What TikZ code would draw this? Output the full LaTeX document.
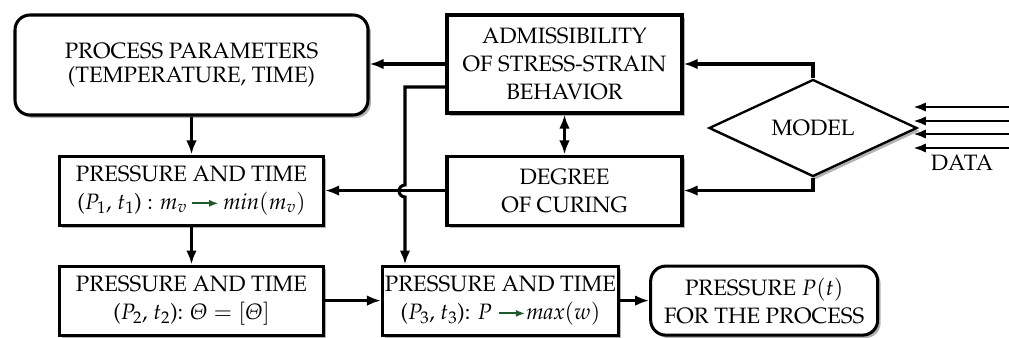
\documentclass[tikz,border=0pt]{standalone}
\usepackage[OT1]{fontenc}
\usepackage[slantedGreek]{mathpazo}
\usetikzlibrary{positioning, arrows.meta, shapes.geometric, shadows}

\definecolor{arrowgreen}{RGB}{30,90,45}
\newcommand{\garrow}{\tikz[baseline=-0.6ex]\draw[-{Latex[length=8pt,width=6pt]}, line width=1.8pt, arrowgreen] (0,0) -- (0.8cm,0);}

\begin{document}
\begin{tikzpicture}[
    x=0.03cm, y=-0.03cm,
    >={Latex[length=12pt,width=9pt]},
    shadowed/.style={
        drop shadow={shadow xshift=2.5pt, shadow yshift=-2.5pt, fill=black!30, opacity=1}
    },
    box/.style={
        rectangle,
        draw,
        line width=2.6pt,
        fill=white,
        minimum width=7.92cm,
        minimum height=2.07cm,
        align=center,
        inner sep=2pt,
        font=\fontsize{19}{24}\selectfont,
        shadowed
    },
    roundbox/.style={box, rounded corners=0.45cm},
    arrow/.style={->, line width=2.6pt}
]
\useasboundingbox (0,0) rectangle (1009,338);

% Upper row
\node[roundbox, minimum width=10.59cm, minimum height=3cm, font=\fontsize{19}{21}\selectfont] (params) at (191.5,65) {PROCESS PARAMETERS\\(TEMPERATURE, TIME)};
\node[box, minimum width=7.05cm, minimum height=2.94cm] (admiss) at (564.5,64) {ADMISSIBILITY\\OF STRESS-STRAIN\\BEHAVIOR};
\node[box, minimum width=7.05cm, below=1.2cm of admiss] (degree) {DEGREE\\OF CURING};

% Model and data
\node[diamond, draw, aspect=2.14, line width=2pt, fill=white, inner sep=0pt, minimum width=6.24cm, minimum height=2.91cm, font=\fontsize{19}{24}\selectfont, shadowed] (model) at (813,128) {MODEL};
\node[font=\fontsize{19}{24}\selectfont] (data) at (962,163) {DATA};
\foreach \y [count=\i] in {107,121,134,148} {
    \coordinate (feed\i) at (1012,\y);
    \draw[arrow, line width=2.4pt, >={Latex[length=11pt,width=8pt]}] (feed\i) -- ++(-99,0);
}

% Pressure and time steps
\node[box, below=1.14cm of params] (ptone) {PRESSURE AND TIME\\($P_1$, $t_1$) : $m_v$\,\garrow\,$\mathit{min}(m_v)$};
\node[box, below=1.14cm of ptone] (pttwo) {PRESSURE AND TIME\\($P_2$, $t_2$): $\Theta = [\Theta]$};
\node[box, minimum width=6.48cm, right=1.68cm of pttwo] (ptthree) {PRESSURE AND TIME\\($P_3$, $t_3$): $P$ \garrow$\mathit{max}(w)$};
\node[roundbox, minimum width=6.81cm, right=0.88cm of ptthree] (result) {PRESSURE $P(t)$\\FOR THE PROCESS};

% Arrows
\draw[arrow] (admiss.west) -- (admiss.west -| params.east);
\draw[arrow] (params) -- (ptone);
\draw[arrow] (ptone) -- (pttwo);
\draw[arrow] (pttwo) -- (ptthree);
\draw[arrow] (ptthree) -- (result);
\draw[arrow] (degree.west) -- (degree.west -| ptone.east);
\draw[arrow, <->] (admiss) -- (degree);
\draw[arrow] (model.north) |- (admiss.east);
\draw[arrow] (model.south) |- (degree.east);

% Bypass with a hop over the curing line
\coordinate (tap) at (405,87);
\coordinate (hop) at (405,185);
\draw[arrow] (admiss.west |- tap) -- (tap) -- (hop) arc[start angle=90, end angle=270, radius=0.18cm] -- (tap |- ptthree.north);

\end{tikzpicture}
\end{document}
